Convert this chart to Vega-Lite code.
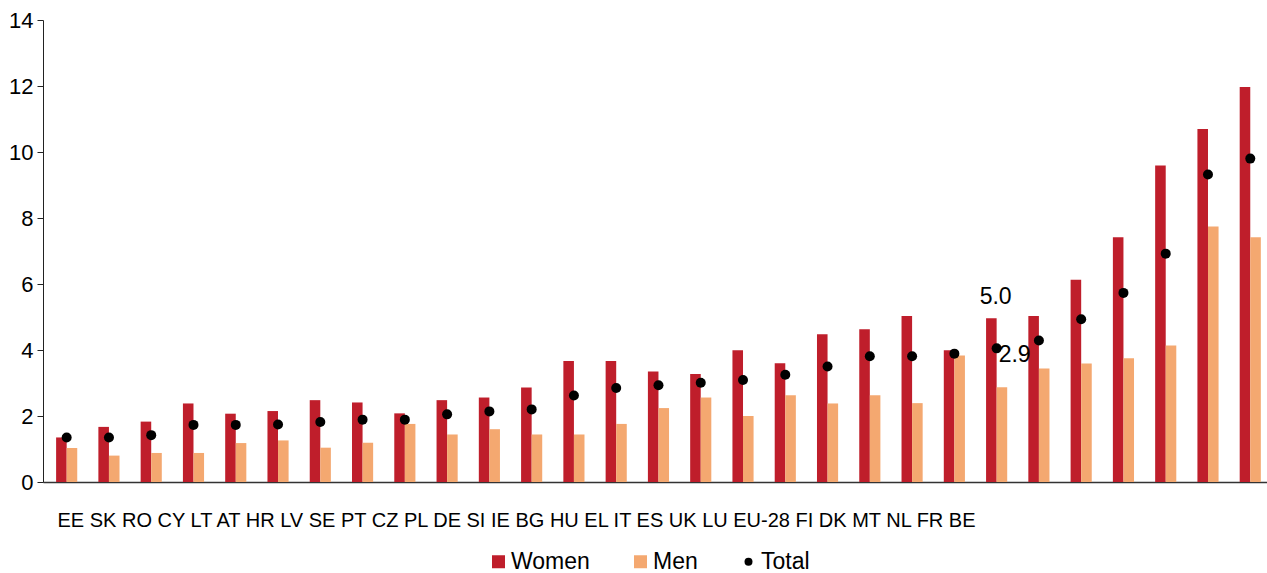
{
  "$schema": "https://vega.github.io/schema/vega-lite/v6.json",
  "width": 1224,
  "height": 462,
  "autosize": {"type": "none"},
  "padding": {"left": 43, "top": 20, "right": 0, "bottom": 91},
  "config": {
    "font": "Liberation Sans",
    "view": {"stroke": null}
  },
  "data": {
    "values": [
      {"country": "EE", "Women": 1.35, "Men": 1.03, "Total": 1.35},
      {"country": "SK", "Women": 1.67, "Men": 0.80, "Total": 1.35},
      {"country": "RO", "Women": 1.83, "Men": 0.88, "Total": 1.42},
      {"country": "CY", "Women": 2.38, "Men": 0.88, "Total": 1.73},
      {"country": "LT", "Women": 2.07, "Men": 1.18, "Total": 1.73},
      {"country": "AT", "Women": 2.15, "Men": 1.26, "Total": 1.74},
      {"country": "HR", "Women": 2.48, "Men": 1.04, "Total": 1.82},
      {"country": "LV", "Women": 2.41, "Men": 1.19, "Total": 1.89},
      {"country": "SE", "Women": 2.08, "Men": 1.76, "Total": 1.89},
      {"country": "PT", "Women": 2.48, "Men": 1.44, "Total": 2.05},
      {"country": "CZ", "Women": 2.56, "Men": 1.60, "Total": 2.14},
      {"country": "PL", "Women": 2.86, "Men": 1.44, "Total": 2.20},
      {"country": "DE", "Women": 3.67, "Men": 1.44, "Total": 2.62},
      {"country": "SI", "Women": 3.67, "Men": 1.76, "Total": 2.85},
      {"country": "IE", "Women": 3.35, "Men": 2.24, "Total": 2.93},
      {"country": "BG", "Women": 3.27, "Men": 2.56, "Total": 3.01},
      {"country": "HU", "Women": 3.99, "Men": 2.00, "Total": 3.09},
      {"country": "EL", "Women": 3.60, "Men": 2.63, "Total": 3.25},
      {"country": "IT", "Women": 4.48, "Men": 2.38, "Total": 3.50},
      {"country": "ES", "Women": 4.63, "Men": 2.63, "Total": 3.81},
      {"country": "UK", "Women": 5.03, "Men": 2.39, "Total": 3.81},
      {"country": "LU", "Women": 3.99, "Men": 3.83, "Total": 3.89},
      {"country": "EU-28", "Women": 4.96, "Men": 2.87, "Total": 4.05},
      {"country": "FI", "Women": 5.03, "Men": 3.44, "Total": 4.29},
      {"country": "DK", "Women": 6.13, "Men": 3.59, "Total": 4.93},
      {"country": "MT", "Women": 7.42, "Men": 3.75, "Total": 5.73},
      {"country": "NL", "Women": 9.59, "Men": 4.14, "Total": 6.92},
      {"country": "FR", "Women": 10.70, "Men": 7.74, "Total": 9.32},
      {"country": "BE", "Women": 11.97, "Men": 7.42, "Total": 9.80}
    ]
  },
  "encoding": {
    "x": {
      "field": "country",
      "type": "nominal",
      "sort": null,
      "scale": {"paddingInner": 0.5, "paddingOuter": 0.228, "align": 0.68},
      "axis": {
        "labels": false,
        "ticks": false,
        "grid": false,
        "title": "EE SK RO CY LT AT HR LV SE PT CZ PL DE SI IE BG HU EL IT ES UK LU EU-28 FI DK MT NL FR BE",
        "titleFontSize": 20,
        "titleFontWeight": "normal",
        "titleColor": "#000",
        "titleAnchor": "start",
        "titleAlign": "left",
        "titleBaseline": "alphabetic",
        "titleX": 14,
        "titleY": 44,
        "titleLimit": 5000,
        "domainColor": "#333",
        "domainWidth": 1.5
      }
    }
  },
  "layer": [
    {
      "transform": [{"fold": ["Women", "Men"], "as": ["series", "value"]}],
      "mark": {"type": "bar"},
      "encoding": {
        "xOffset": {"field": "series", "type": "nominal", "sort": ["Women", "Men"], "scale": {"domain": ["Women", "Men"], "paddingInner": 0, "paddingOuter": 0}},
        "y": {
          "field": "value",
          "type": "quantitative",
          "title": null,
          "scale": {"domain": [0, 14], "nice": false},
          "axis": {
            "values": [0, 2, 4, 6, 8, 10, 12, 14],
            "grid": false,
            "domainColor": "#222",
            "tickColor": "#222",
            "tickSize": 6,
            "labelFontSize": 22,
            "labelColor": "#000",
            "labelPadding": 4
          }
        },
        "color": {
          "field": "series",
          "type": "nominal",
          "scale": {"domain": ["Women", "Men", "Total"], "range": ["#BF1E2B", "#F4A870", "#000000"]},
          "legend": {
            "title": null,
            "orient": "none",
            "legendX": 444,
            "legendY": 530,
            "direction": "horizontal",
            "labelFontSize": 23,
            "labelColor": "#000",
            "labelOffset": 1,
            "columnPadding": 39,
            "symbolSize": 169,
            "symbolOpacity": 1,
            "encode": {
              "symbols": {
                "update": {
                  "shape": {"signal": "datum.value === 'Total' ? 'circle' : 'square'"},
                  "size": {"signal": "datum.value === 'Total' ? 64 : 169"}
                }
              }
            }
          }
        }
      }
    },
    {
      "mark": {"type": "point", "filled": true, "opacity": 1, "size": 100},
      "encoding": {
        "y": {"field": "Total", "type": "quantitative", "title": null},
        "color": {"datum": "Total", "type": "nominal"}
      }
    },
    {
      "transform": [{"filter": "datum.country === 'EU-28'"}],
      "mark": {"type": "text", "fontSize": 23, "align": "center", "baseline": "alphabetic", "dx": -1, "dy": -14, "color": "#000"},
      "encoding": {
        "y": {"field": "Women", "type": "quantitative", "title": null},
        "text": {"field": "Women", "type": "quantitative", "format": ".1f"}
      }
    },
    {
      "transform": [{"filter": "datum.country === 'EU-28'"}],
      "mark": {"type": "text", "fontSize": 23, "align": "center", "baseline": "alphabetic", "dx": 18, "dy": -25, "color": "#000"},
      "encoding": {
        "y": {"field": "Men", "type": "quantitative", "title": null},
        "text": {"field": "Men", "type": "quantitative", "format": ".1f"}
      }
    }
  ]
}
